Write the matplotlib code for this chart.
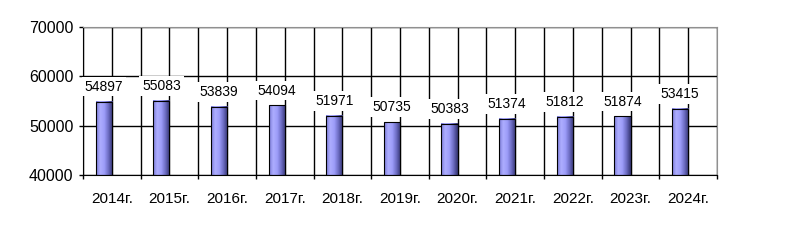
import matplotlib
matplotlib.use('Agg')
import matplotlib.pyplot as plt
import numpy as np
from matplotlib.colors import LinearSegmentedColormap

plt.rcParams['font.family'] = ['Liberation Sans', 'DejaVu Sans']

# данные
years = ['2014г.', '2015г.', '2016г.', '2017г.', '2018г.', '2019г.',
         '2020г.', '2021г.', '2022г.', '2023г.', '2024г.']
values = [54897, 55083, 53839, 54094, 51971, 50735, 50383, 51374, 51812, 51874, 53415]

fig = plt.figure(figsize=(7.86, 2.52), dpi=100)
ax = fig.add_axes([83/786, 1-175/252, (717-83)/786, (175-27)/252])

n = len(years)
ax.set_xlim(0, n)
ax.set_ylim(40000, 70000)
ax.set_yticks([40000, 50000, 60000, 70000])

# границы категорий - большие деления, центры - подписи
ax.set_xticks(np.arange(n + 1))
ax.set_xticklabels([])
ax.set_xticks(np.arange(n) + 0.5, minor=True)
ax.set_xticklabels(years, minor=True)
ax.tick_params(axis='x', which='major', length=3, width=1, color='black')
ax.tick_params(axis='x', which='minor', length=0, pad=12, labelsize=11)
ax.tick_params(axis='y', length=3, width=1, pad=4, labelsize=11.5)

ax.grid(True, which='both', axis='x', color='black', lw=1, zorder=0)
ax.grid(True, which='major', axis='y', color='black', lw=1, zorder=0)
ax.set_axisbelow(True)

for s in ['left', 'bottom']:
    ax.spines[s].set_color('black')
for s in ['top', 'right']:
    ax.spines[s].set_color('#909090')

cmap = LinearSegmentedColormap.from_list('cyl', ['#7a7ad8', '#aeaeff', '#9c9cf8', '#6a6ac0', '#33336e'])
grad = np.linspace(0, 1, 64).reshape(1, -1)
w = 0.28
for i, v in enumerate(values):
    x1 = i + 0.5
    x0 = x1 - w
    ax.imshow(grad, cmap=cmap, extent=(x0, x1, 40000, v), aspect='auto', zorder=2)
    ax.add_patch(plt.Rectangle((x0, 40000), w, v - 40000, fill=False,
                               ec='black', lw=0.8, zorder=3))
    ax.text(x0 + w/2, v + 3000, str(v), ha='center', va='center', fontsize=10,
            zorder=4, bbox=dict(fc='white', ec='none', pad=2))

ax.set_xlim(0, n)
ax.set_ylim(40000, 70000)

fig.savefig('out.png', dpi=100)
